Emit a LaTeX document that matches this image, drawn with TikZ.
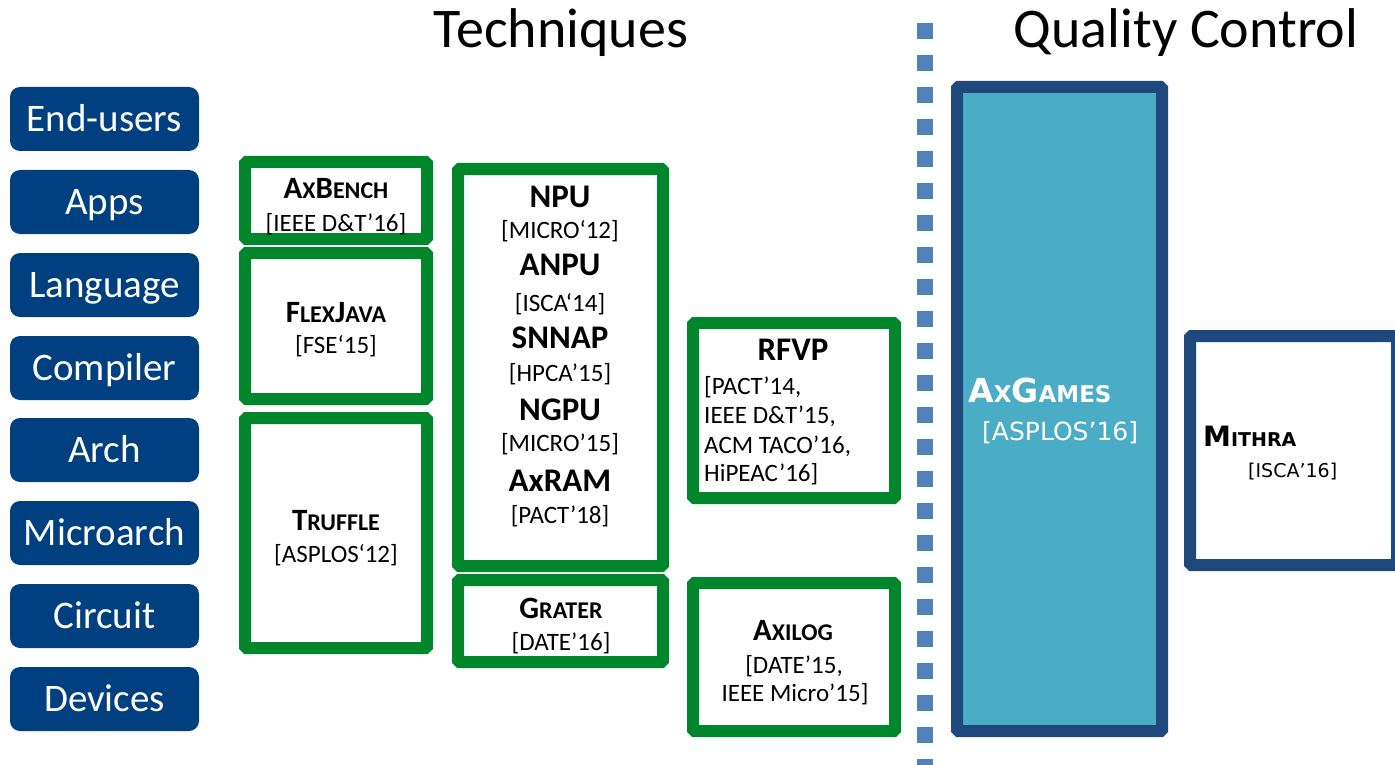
\documentclass[tikz,border=0pt]{standalone}
\usepackage{fontspec}
\setmainfont{Carlito}
\newfontfamily\vfont{DejaVu Sans}
\definecolor{layerblue}{RGB}{0,64,128}
\definecolor{grn}{RGB}{0,134,43}
\definecolor{navyb}{RGB}{31,73,125}
\definecolor{qfill}{RGB}{75,172,198}
\definecolor{dashblue}{RGB}{79,129,189}
\newcommand\fs[1]{\fontsize{#1}{#1}\selectfont}
\newcommand\scs[2]{{\fontsize{#1}{#1}\selectfont #2}}
\begin{document}
\begin{tikzpicture}[x=1pt,y=-1pt,
  layer/.style={fill=layerblue, rounded corners=10pt, minimum width=189pt, minimum height=64pt,
    inner sep=0pt, text=white, font=\fs{39}, text height=25pt, text depth=0pt},
  gbox/.style={draw=grn, line width=12pt, rounded corners=1.5pt, inner sep=0pt, fill=white},
  qbox/.style={draw=navyb, line width=12pt, rounded corners=1.5pt, inner sep=0pt},
  ttl/.style={font=\bfseries\fs{31}, anchor=base, inner sep=0pt},
  big/.style={font=\bfseries\fs{33}, anchor=base, inner sep=0pt},
  cite/.style={font=\fs{25}, anchor=base, inner sep=0pt},
  citew/.style={font=\fs{25}, anchor=base west, inner sep=0pt},
  head/.style={font=\fs{56}, anchor=base, inner sep=0pt},
  dashline/.style={draw=dashblue, line width=16pt, dash pattern=on 16pt off 16pt}
]
\useasboundingbox (0,0) rectangle (1395,765);
\begin{scope}
\clip (0,0) rectangle (1395,765);

% headings
\node[head] (hTech) at (561,48) {Techniques};
\node[head] (hQC) at (1186,48) {Quality Control};

% layers
\node[layer] (l1) at (104.5,119) {End-users};
\node[layer] (l2) at (104.5,202) {Apps};
\node[layer] (l3) at (104.5,285) {Language};
\node[layer] (l4) at (104.5,368) {Compiler};
\node[layer] (l5) at (104.5,450) {Arch};
\node[layer] (l6) at (104.5,533) {Microarch};
\node[layer] (l7) at (104.5,616) {Circuit};
\node[layer] (l8) at (104.5,699) {Devices};

% green boxes
\node[gbox, minimum width=182pt, minimum height=77pt] (bAxBench) at (336,200.5) {};
\node[gbox, minimum width=182pt, minimum height=146pt] (bFlex) at (336,326) {};
\node[gbox, minimum width=182pt, minimum height=230pt] (bTruffle) at (336,533) {};
\node[gbox, minimum width=205pt, minimum height=397pt] (bNPU) at (560.5,367.5) {};
\node[gbox, minimum width=205pt, minimum height=82pt] (bGrater) at (560.5,621) {};
\node[gbox, minimum width=202pt, minimum height=175pt] (bRFVP) at (794,410.5) {};
\node[gbox, minimum width=202pt, minimum height=148pt] (bAxilog) at (794,657) {};

% quality boxes
\node[qbox, fill=qfill, minimum width=205pt, minimum height=644pt] (bAxGames) at (1059.5,409) {};
\node[qbox, fill=white, minimum width=207pt, minimum height=229pt] (bMithra) at (1293.5,450.5) {};

% dashed separator
\coordinate (dTop) at (925,23);
\coordinate (dBot) at (925,775);
\draw[dashline] (dTop) -- (dBot);

% texts: AxBench
\node[ttl] (tAxBench) at (336,198) {A\scs{24}{X}B\scs{24}{ENCH}};
\node[cite] (cAxBench) at (336,231) {[IEEE D\&T’16]};
% FlexJava
\node[ttl] (tFlex) at (336,322) {F\scs{24}{LEX}J\scs{24}{AVA}};
\node[cite] (cFlex) at (336,353) {[FSE‘15]};
% Truffle
\node[ttl] (tTruffle) at (336,530) {T\scs{24}{RUFFLE}};
\node[cite] (cTruffle) at (336,562) {[ASPLOS‘12]};
% NPU column
\node[big] (tNPU) at (560,207) {NPU};
\node[cite] (cNPU) at (560,238) {[MICRO‘12]};
\node[big] (tANPU) at (560,275) {ANPU};
\node[cite] (cANPU) at (560,311) {[ISCA‘14]};
\node[big] (tSNNAP) at (560,348) {SNNAP};
\node[cite] (cSNNAP) at (560,381) {[HPCA’15]};
\node[big] (tNGPU) at (560,420) {NGPU};
\node[cite] (cNGPU) at (560,451) {[MICRO’15]};
\node[big] (tAxRAM) at (560,491) {AxRAM};
\node[cite] (cAxRAM) at (560,523) {[PACT’18]};
% Grater
\node[ttl] (tGrater) at (561,618) {G\scs{24}{RATER}};
\node[cite] (cGrater) at (561,650) {[DATE’16]};
% RFVP
\node[big] (tRFVP) at (793,360) {RFVP};
\node[citew] (cRFVP1) at (704,394) {[PACT’14,};
\node[citew] (cRFVP2) at (704,423) {IEEE D\&T’15,};
\node[citew] (cRFVP3) at (704,453) {ACM TACO’16,};
\node[citew] (cRFVP4) at (704,481) {HiPEAC’16]};
% Axilog
\node[ttl] (tAxilog) at (793,640) {A\scs{24}{XILOG}};
\node[cite] (cAxilog1) at (794,673) {[DATE’15,};
\node[cite] (cAxilog2) at (795,701) {IEEE Micro’15]};
% AxGames
\node[anchor=base west, inner sep=0pt, text=white, font=\vfont\bfseries\fs{33}] (tAxGames) at (968,402) {A\scs{23}{X}G\scs{23}{AMES}};
\node[anchor=base west, inner sep=0pt, text=white, font=\vfont\fs{25}] (cAxGames) at (982,440) {[ASPLOS’16]};
% Mithra
\node[anchor=base west, inner sep=0pt, font=\vfont\bfseries\fs{28}] (tMithra) at (1203,446) {M\scs{19}{ITHRA}};
\node[anchor=base west, inner sep=0pt, font=\vfont\fs{19}] (cMithra) at (1248,477) {[ISCA’16]};
\end{scope}
\end{tikzpicture}
\end{document}
